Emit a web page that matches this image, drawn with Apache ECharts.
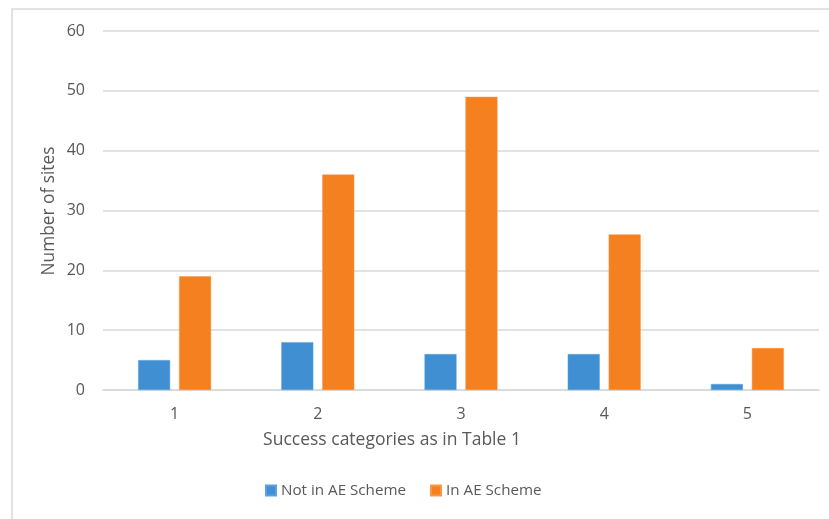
<!DOCTYPE html>
<html>
<head>
<meta charset="utf-8">
<script src="https://cdn.jsdelivr.net/npm/echarts@6/dist/echarts.min.js"></script>
<style>
  html, body { margin: 0; padding: 0; background: #fff; }
  #chart { width: 829px; height: 519px; }
</style>
</head>
<body>
<div id="chart"></div>
<script>
// Success categories and site counts per scheme membership
const categories = ['1', '2', '3', '4', '5'];
const notInAE = [5, 8, 6, 6, 1];
const inAE = [19, 36, 49, 26, 7];
const yTicks = { min: 0, max: 60, interval: 10 };

const FONT = '"Open Sans", "Noto Sans", sans-serif';
const TEXT = '#595959';

const chart = echarts.init(document.getElementById('chart'), null, { renderer: 'canvas' });

chart.setOption({
  backgroundColor: '#ffffff',
  animation: false,
  textStyle: { fontFamily: FONT, color: TEXT },
  grid: { left: 103, right: 10, top: 31, bottom: 129, containLabel: false },
  legend: {
    data: ['Not in AE Scheme', 'In AE Scheme'],
    top: 478,
    left: 260,
    itemWidth: 10,
    itemHeight: 10,
    itemGap: 24,
    icon: 'rect',
    textStyle: { fontFamily: FONT, fontSize: 15.2, color: TEXT }
  },
  xAxis: {
    type: 'category',
    data: categories,
    axisLine: { lineStyle: { color: '#d9d9d9', width: 1.5 } },
    axisTick: { show: false },
    axisLabel: { fontFamily: FONT, fontSize: 16, color: TEXT, margin: 16 }
  },
  yAxis: {
    type: 'value',
    min: yTicks.min,
    max: yTicks.max,
    interval: yTicks.interval,
    axisLine: { show: false },
    axisTick: { show: false },
    splitLine: { lineStyle: { color: '#d9d9d9', width: 1.5 } },
    axisLabel: { fontFamily: FONT, fontSize: 16, color: TEXT, margin: 18 }
  },
  graphic: [
    {
      type: 'rect',
      shape: { x: 12, y: 9, width: 840, height: 540 },
      style: { fill: 'none', stroke: '#d9d9d9', lineWidth: 1.5 },
      silent: true
    },
    {
      type: 'text',
      x: 49, y: 211,
      rotation: Math.PI / 2,
      style: {
        text: 'Number of sites',
        fontFamily: FONT, fontSize: 17.3, fill: TEXT,
        textAlign: 'center', textVerticalAlign: 'middle'
      }
    },
    {
      type: 'text',
      x: 392, y: 440,
      style: {
        text: 'Success categories as in Table 1',
        fontFamily: FONT, fontSize: 17.5, fill: TEXT,
        textAlign: 'center', textVerticalAlign: 'middle'
      }
    }
  ],
  series: [
    {
      name: 'Not in AE Scheme',
      type: 'bar',
      data: notInAE,
      barWidth: 32,
      barGap: '28%',
      itemStyle: { color: '#3F8FD2', borderColor: '#5aa2dd', borderWidth: 0.5 }
    },
    {
      name: 'In AE Scheme',
      type: 'bar',
      data: inAE,
      barWidth: 32,
      barGap: '28%',
      itemStyle: { color: '#F58020', borderColor: '#f89547', borderWidth: 0.5 }
    }
  ]
});
</script>
</body>
</html>
